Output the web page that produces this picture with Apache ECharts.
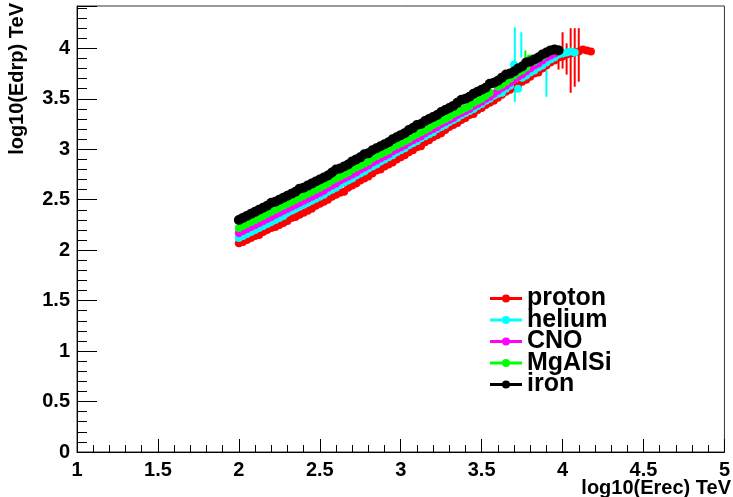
<!DOCTYPE html>
<html>
<head>
<meta charset="utf-8">
<script src="https://cdn.jsdelivr.net/npm/echarts@6/dist/echarts.min.js"></script>
<style>
html,body{margin:0;padding:0;background:#fff;}
#chart{width:733px;height:497px;}
</style>
</head>
<body>
<div id="chart"></div>
<script>
// bin centres of log10(Erec) [TeV]
const binX = [
2.000,2.025,2.050,2.075,2.100,2.125,2.150,2.175,2.200,2.225,
2.250,2.275,2.300,2.325,2.350,2.375,2.400,2.425,2.450,2.475,
2.500,2.525,2.550,2.575,2.600,2.625,2.650,2.675,2.700,2.725,
2.750,2.775,2.800,2.825,2.850,2.875,2.900,2.925,2.950,2.975,
3.000,3.025,3.050,3.075,3.100,3.125,3.150,3.175,3.200,3.225,
3.250,3.275,3.300,3.325,3.350,3.375,3.400,3.425,3.450,3.475,
3.500,3.525,3.550,3.575,3.600,3.625,3.650,3.675,3.700,3.725,
3.750,3.775,3.800,3.825,3.850,3.875,3.900,3.925,3.950,3.975,
4.000,4.025,4.050,4.075,4.100,4.125,4.150,4.175];

// log10(Edrp) [TeV] per bin
const proton = [
2.07,2.08,2.10,2.12,2.14,2.15,2.18,2.20,2.22,2.23,
2.25,2.27,2.29,2.32,2.33,2.35,2.37,2.39,2.41,2.44,
2.46,2.48,2.50,2.53,2.55,2.57,2.58,2.62,2.64,2.66,
2.69,2.71,2.73,2.76,2.79,2.80,2.83,2.85,2.87,2.90,
2.92,2.94,2.97,2.99,3.02,3.03,3.07,3.09,3.12,3.14,
3.16,3.19,3.22,3.24,3.26,3.29,3.31,3.34,3.35,3.39,
3.41,3.44,3.46,3.48,3.51,3.54,3.57,3.59,3.62,3.63,
3.67,3.69,3.72,3.75,3.76,3.80,3.83,3.86,3.88,3.91,
3.92,3.94,3.95,3.96,3.97,3.99,3.98,3.97];
const helium = [
2.12,2.14,2.16,2.18,2.20,2.22,2.24,2.26,2.28,2.30,
2.32,2.34,2.37,2.39,2.41,2.43,2.45,2.47,2.49,2.51,
2.53,2.55,2.58,2.60,2.62,2.65,2.67,2.69,2.71,2.74,
2.76,2.78,2.81,2.83,2.85,2.88,2.90,2.92,2.94,2.97,
2.99,3.01,3.04,3.06,3.08,3.11,3.13,3.15,3.17,3.20,
3.22,3.24,3.27,3.29,3.31,3.34,3.36,3.38,3.40,3.43,
3.45,3.48,3.50,3.53,3.55,3.56,3.60,3.63,3.84,3.60,
3.71,3.73,3.76,3.78,3.81,3.83,3.86,3.89,3.91,3.94,
3.95,3.96,3.97,3.96];
const cno = [
2.17,2.19,2.21,2.23,2.25,2.27,2.29,2.31,2.33,2.35,
2.37,2.39,2.41,2.43,2.45,2.47,2.49,2.51,2.53,2.55,
2.57,2.59,2.62,2.64,2.66,2.69,2.71,2.73,2.75,2.77,
2.80,2.82,2.84,2.87,2.89,2.91,2.93,2.95,2.98,3.00,
3.02,3.04,3.07,3.09,3.11,3.13,3.16,3.18,3.20,3.22,
3.25,3.27,3.29,3.31,3.34,3.36,3.38,3.40,3.43,3.45,
3.47,3.50,3.52,3.55,3.58,3.61,3.63,3.66,3.69,3.72,
3.74,3.77,3.80,3.83,3.85,3.88,3.91,3.93,3.95];
const mgalsi = [
2.22,2.24,2.26,2.28,2.30,2.32,2.34,2.36,2.38,2.40,
2.42,2.44,2.46,2.48,2.50,2.52,2.54,2.56,2.58,2.60,
2.62,2.64,2.66,2.69,2.71,2.73,2.75,2.77,2.80,2.82,
2.84,2.86,2.88,2.91,2.93,2.95,2.97,2.99,3.02,3.04,
3.06,3.08,3.10,3.13,3.15,3.17,3.19,3.21,3.24,3.26,
3.28,3.30,3.32,3.35,3.37,3.39,3.41,3.43,3.46,3.48,
3.50,3.53,3.56,3.65,3.62,3.64,3.67,3.70,3.73,3.76,
3.78,3.81,3.90,3.87,3.90,3.92,3.95,3.97,3.98];
const iron = [
2.30,2.32,2.34,2.36,2.38,2.40,2.42,2.44,2.47,2.48,
2.50,2.52,2.54,2.56,2.58,2.61,2.62,2.64,2.66,2.68,
2.70,2.72,2.74,2.77,2.80,2.81,2.83,2.85,2.88,2.90,
2.92,2.95,2.96,2.99,3.01,3.03,3.05,3.07,3.10,3.12,
3.14,3.16,3.19,3.21,3.24,3.25,3.28,3.30,3.32,3.34,
3.37,3.39,3.41,3.43,3.46,3.49,3.50,3.52,3.55,3.57,
3.59,3.61,3.65,3.66,3.68,3.71,3.74,3.75,3.77,3.80,
3.82,3.86,3.87,3.89,3.91,3.94,3.96,3.98,3.99,3.98];

// visible error bars: [x, low, high]
const protonErr = [[3.975,3.79,4.03],[4.000,3.80,4.16],[4.025,3.74,4.05],[4.050,3.56,4.20],[4.075,3.62,4.20],[4.100,3.67,4.20]];
const heliumErr = [[3.705,3.47,4.21],[3.745,3.91,4.16],[3.900,3.52,3.80]];
const cnoErr = [];
const mgalsiErr = [[3.770,3.83,3.98]];
const ironErr = [];

// axis titles / legend entries
const xTitle = 'log10(Erec) TeV';
const yTitle = 'log10(Edrp) TeV';
const names = ['proton','helium','CNO','MgAlSi','iron'];
const colors = ['#ff0000','#00ffff','#ff00ff','#00ff00','#000000'];

const FONT = '"Liberation Sans", Arial, Helvetica, sans-serif';
const values = [proton, helium, cno, mgalsi, iron];
const errs = [protonErr, heliumErr, cnoErr, mgalsiErr, ironErr];
const legendIcon = 'path://M0,2.6h32v2.8h-32z M20,4a4,4 0 1,1 -8,0a4,4 0 1,1 8,0z';

const series = [];
names.forEach((n, k) => {
  const col = colors[k];
  series.push({
    type: 'custom', name: n + ' err', data: errs[k],
    encode: {x: 0, y: [1, 2]},
    renderItem: (params, api) => {
      const x = api.value(0), lo = api.value(1), hi = api.value(2);
      const a = api.coord([x, lo]), b = api.coord([x, hi]);
      return {type: 'line', shape: {x1: a[0], y1: a[1], x2: b[0], y2: b[1]},
              style: {stroke: col, lineWidth: 2}};
    },
    silent: true
  });
  series.push({
    type: 'scatter', name: n,
    data: values[k].map((y, i) => [binX[i], y]),
    symbol: 'circle', symbolSize: k === 4 ? 10 : 8,
    itemStyle: {color: col, opacity: 1},
    silent: true
  });
});

const axisLabel = {fontFamily: FONT, fontWeight: 'bold', fontSize: 20, color: '#000'};

const option = {
  animation: false,
  backgroundColor: '#ffffff',
  grid: {left: 77, right: 3, top: 6, bottom: 45, show: true, borderColor: '#333', borderWidth: 1},
  xAxis: {
    type: 'value', min: 1, max: 5, interval: 0.5,
    axisLine: {onZero: false, lineStyle: {color: '#000', width: 1}},
    axisTick: {inside: true, length: 13, lineStyle: {color: '#000', width: 1}},
    minorTick: {show: true, splitNumber: 5, length: 7, lineStyle: {color: '#000', width: 1}},
    splitLine: {show: false},
    axisLabel: Object.assign({margin: 8}, axisLabel)
  },
  yAxis: {
    type: 'value', min: 0, max: 4.42, interval: 0.5,
    axisLine: {onZero: false, lineStyle: {color: '#000', width: 1}},
    axisTick: {inside: true, length: 20, lineStyle: {color: '#000', width: 1}},
    minorTick: {show: true, splitNumber: 5, length: 10, lineStyle: {color: '#000', width: 1}},
    splitLine: {show: false},
    axisLabel: Object.assign({margin: 7, showMaxLabel: false}, axisLabel)
  },
  legend: {
    orient: 'vertical', left: 485, top: 281, padding: 5,
    itemWidth: 32, itemHeight: 8, itemGap: -3.5,
    data: names.map(n => ({name: n, icon: legendIcon})),
    textStyle: {fontFamily: FONT, fontWeight: 'bold', fontSize: 25, color: '#000'},
    selectedMode: false
  },
  graphic: [
    {type: 'text', x: 731, y: 488, style: {text: xTitle, font: 'bold 20px ' + FONT, fill: '#000', align: 'right', verticalAlign: 'middle'}},
    {type: 'text', x: 17, y: 3, rotation: Math.PI / 2, style: {text: yTitle, font: 'bold 20px ' + FONT, fill: '#000', align: 'right', verticalAlign: 'middle'}}
  ],
  series: series
};

const chart = echarts.init(document.getElementById('chart'), null, {renderer: 'canvas'});
chart.setOption(option);
</script>
</body>
</html>
